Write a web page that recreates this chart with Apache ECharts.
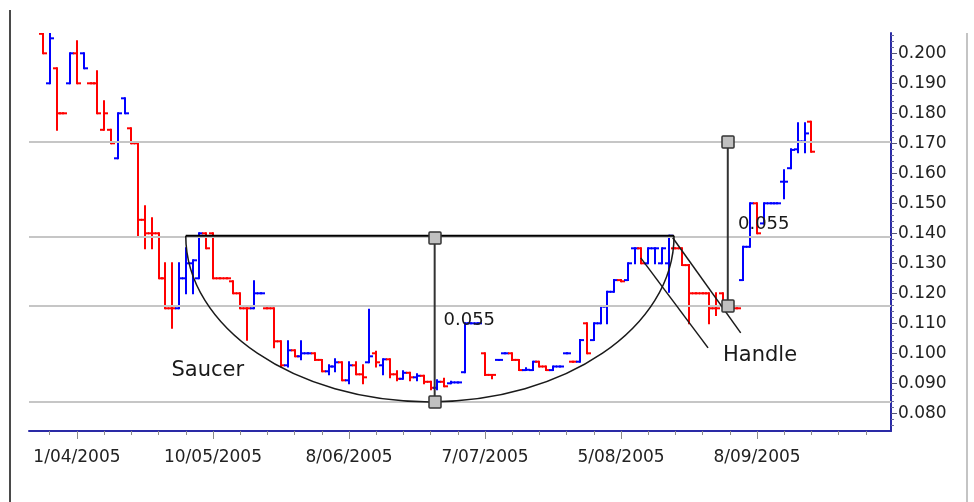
<!DOCTYPE html>
<html><head><meta charset="utf-8">
<script src="https://cdn.jsdelivr.net/npm/echarts@6/dist/echarts.min.js"></script>
<style>html,body{margin:0;padding:0;background:#ffffff}#c{width:974px;height:502px}</style>
</head><body><div id="c"></div>
<script>
// ---- price bars (one per trading session, index = position on the axis) ----
const opens = [
.2065,.1900,.1950,.1800,.1900,.2000,.2000,.1900,.1900,.1745,
.1745,.1650,.1850,.1750,.1700,.1445,.1400,.1400,.1250,.1150,
.1150,.1250,.1300,.1250,.1400,.1400,.1250,.1250,.1240,.1200,
.1150,.1150,.1200,.1150,.1150,.1040,.0960,.1010,.0990,.1000,
.1000,.0978,.0940,.0956,.0970,.0910,.0960,.0930,.0970,.1000,
.0960,.0980,.0930,.0915,.0935,.0920,.0925,.0905,.0885,.0905,
.0900,.0903,.0937,.1100,.1100,.1000,.0928,.0978,.1000,.1000,
.0978,.0944,.0944,.0972,.0956,.0944,.0956,.1000,.0972,.0972,
.1100,.1044,.1100,.1156,.1205,.1244,.1244,.1350,.1350,.1300,
.1350,.1300,.1300,.1350,.1350,.1294,.1200,.1200,.1200,.1150,
.1200,.1150,.1150,.1244,.1355,.1500,.1433,.1500,.1500,.1572,
.1617,.1680,.1706,.1772];
const highs = [
.2065,.2065,.1950,.1800,.2000,.2040,.2000,.1900,.1940,.1840,
.1745,.1800,.1850,.1750,.1700,.1490,.1450,.1400,.1300,.1300,
.1300,.1350,.1310,.1400,.1400,.1400,.1250,.1250,.1240,.1200,
.1150,.1240,.1200,.1150,.1150,.1040,.1040,.1010,.1040,.1000,
.1000,.0978,.0960,.0980,.0970,.0970,.0970,.0960,.1145,.1005,
.0980,.0980,.0940,.0940,.0935,.0930,.0925,.0905,.0910,.0915,
.0905,.0903,.1100,.1100,.1100,.1000,.0928,.0978,.1000,.1000,
.0978,.0950,.0972,.0972,.0956,.0956,.0956,.1000,.0972,.1044,
.1100,.1100,.1156,.1205,.1244,.1244,.1300,.1350,.1350,.1350,
.1350,.1350,.1392,.1350,.1350,.1294,.1200,.1200,.1200,.1200,
.1200,.1150,.1150,.1355,.1500,.1500,.1500,.1500,.1500,.1610,
.1680,.1767,.1767,.1772];
const lows = [
.2000,.1900,.1745,.1800,.1900,.1900,.1950,.1900,.1800,.1745,
.1700,.1650,.1800,.1700,.1394,.1350,.1350,.1250,.1150,.1085,
.1150,.1200,.1200,.1250,.1350,.1250,.1250,.1250,.1200,.1150,
.1045,.1150,.1200,.1150,.1020,.0956,.0956,.0990,.0980,.1000,
.0978,.0940,.0930,.0940,.0910,.0900,.0930,.0900,.0970,.0956,
.0930,.0920,.0910,.0915,.0910,.0910,.0900,.0880,.0880,.0890,
.0900,.0903,.0937,.1100,.1100,.0928,.0917,.0978,.1000,.0978,
.0944,.0944,.0944,.0956,.0944,.0944,.0956,.1000,.0972,.0972,
.1000,.1044,.1100,.1100,.1205,.1240,.1244,.1300,.1300,.1300,
.1300,.1300,.1205,.1350,.1294,.1100,.1200,.1200,.1100,.1128,
.1150,.1150,.1150,.1244,.1355,.1400,.1433,.1500,.1500,.1517,
.1617,.1670,.1670,.1672];
const closes = [
.2000,.2050,.1800,.1800,.2000,.1900,.1950,.1900,.1800,.1800,
.1700,.1800,.1800,.1700,.1445,.1400,.1400,.1250,.1150,.1150,
.1250,.1300,.1310,.1400,.1350,.1250,.1250,.1250,.1200,.1150,
.1150,.1200,.1200,.1150,.1040,.0960,.1010,.0990,.1000,.1000,
.0978,.0940,.0956,.0970,.0910,.0960,.0930,.0920,.0990,.0970,
.0980,.0930,.0915,.0935,.0920,.0925,.0905,.0885,.0905,.0890,
.0903,.0903,.1100,.1100,.1100,.0928,.0928,.0978,.1000,.0978,
.0944,.0945,.0972,.0956,.0944,.0956,.0956,.1000,.0972,.1044,
.1000,.1100,.1156,.1205,.1244,.1240,.1300,.1350,.1300,.1350,
.1350,.1350,.1392,.1350,.1294,.1200,.1200,.1200,.1150,.1150,
.1150,.1150,.1150,.1355,.1500,.1400,.1500,.1500,.1500,.1572,
.1678,.1706,.1733,.1672];

// ---- axis labels ----
const xTickIndex = [5, 25, 45, 65, 85, 105];
const xTickLabels = ['1/04/2005','10/05/2005','8/06/2005','7/07/2005','5/08/2005','8/09/2005'];
const yTickValues = [0.08,0.09,0.10,0.11,0.12,0.13,0.14,0.15,0.16,0.17,0.18,0.19,0.20];

// ---- pattern annotations (axis index, price) ----
const levelLines = [0.1705, 0.1388, 0.1158, 0.0838];
const saucerRim = [[21.0, 0.1392], [92.8, 0.1392]];
const saucerBottom = 0.0838;
const depthMeasure = [[57.6, 0.1386], [57.6, 0.0838]];
const targetMeasure = [[100.7, 0.1705], [100.7, 0.1158]];
const handleLines = [[[87.9, 0.1318], [97.8, 0.1018]], [[92.6, 0.1385], [102.6, 0.1068]]];
const noteTexts = ['Saucer', 'Handle', '0.055', '0.055'];
const notePositions = [[18.9, 0.0944], [100.0, 0.0991], [58.9, 0.1111], [102.2, 0.1431]];
const noteSizes = [21, 21, 18, 18];

const X_MIN = -2.05, X_MAX = 124.7, Y_MIN = 0.0741, Y_MAX = 0.20677;

const barData = closes.map((c, i) => {
  const prev = i === 0 ? opens[0] : closes[i - 1];
  return [i, opens[i], highs[i], lows[i], c, c > prev ? 1 : (c < prev ? 0 : -1)];
});
// equal closes keep previous colour
for (let i = 0; i < barData.length; i++) {
  if (barData[i][5] === -1) barData[i][5] = i === 0 ? 0 : barData[i - 1][5];
}

const minorX = []; for (let v = 1; v <= 121; v += 4) minorX.push(v);
const minorY = []; for (let v = 76; v <= 206; v += 2) minorY.push(v / 1000);

const FONT = 'DejaVu Sans';
const AXIS_BLUE = '#2a2aa6';

const option = {
  animation: false,
  backgroundColor: '#ffffff',
  grid: { left: 29, right: 83, top: 33, bottom: 71, containLabel: false },
  xAxis: [{
    type: 'value', min: X_MIN, max: X_MAX, position: 'bottom',
    axisLine: { show: true, onZero: false, lineStyle: { color: AXIS_BLUE, width: 2 } },
    axisTick: { show: true, customValues: minorX, length: 4, lineStyle: { color: '#8a8a8a', width: 1 } },
    axisLabel: { show: true, customValues: xTickIndex, margin: 18, color: '#222', fontFamily: FONT, fontSize: 17,
      formatter: v => { const k = xTickIndex.indexOf(Math.round(v)); return k >= 0 ? xTickLabels[k] : ''; } },
    splitLine: { show: false }
  }, {
    type: 'value', min: X_MIN, max: X_MAX, position: 'bottom', gridIndex: 0,
    axisLine: { show: false, onZero: false },
    axisTick: { show: true, customValues: xTickIndex, length: 8, lineStyle: { color: '#8a8a8a', width: 1 } },
    axisLabel: { show: false }, splitLine: { show: false }
  }],
  yAxis: [{
    type: 'value', min: Y_MIN, max: Y_MAX, position: 'right',
    axisLine: { show: true, onZero: false, lineStyle: { color: AXIS_BLUE, width: 2 } },
    axisTick: { show: true, customValues: minorY, length: 3, lineStyle: { color: '#6a6a9a', width: 1 } },
    axisLabel: { show: true, customValues: yTickValues, margin: 7, color: '#222', fontFamily: FONT, fontSize: 17,
      formatter: v => v.toFixed(3) },
    splitLine: { show: false }
  }, {
    type: 'value', min: Y_MIN, max: Y_MAX, position: 'right',
    axisLine: { show: false, onZero: false },
    axisTick: { show: true, customValues: yTickValues, length: 6, lineStyle: { color: '#555577', width: 1 } },
    axisLabel: { show: false }, splitLine: { show: false }
  }],
  series: [{
    type: 'line', data: [], xAxisIndex: 0, yAxisIndex: 0, z: 1,
    markLine: { silent: true, symbol: 'none', animation: false, precision: 5, label: { show: false },
      lineStyle: { color: '#c6c6c6', width: 2, type: 'solid' },
      data: levelLines.map(v => ({ yAxis: v })) }
  }, {
    type: 'custom', xAxisIndex: 0, yAxisIndex: 0, z: 3, clip: true,
    data: barData,
    renderItem: (params, api) => {
      const i = api.value(0);
      const pO = api.coord([i, api.value(1)]);
      const pH = api.coord([i, api.value(2)]);
      const pL = api.coord([i, api.value(3)]);
      const pC = api.coord([i, api.value(4)]);
      const color = api.value(5) ? '#0000ff' : '#ff0000';
      const x = Math.round(pO[0]);
      const st = { stroke: color, lineWidth: 2 };
      const ch = [];
      ch.push({ type: 'line', shape: { x1: x, y1: pH[1] - 1, x2: x, y2: pL[1] + 1 }, style: st });
      ch.push({ type: 'line', shape: { x1: x - 4, y1: pO[1], x2: x, y2: pO[1] }, style: st });
      ch.push({ type: 'line', shape: { x1: x, y1: pC[1], x2: x + 4, y2: pC[1] }, style: st });
      return { type: 'group', children: ch };
    }
  }]
};

const chart = echarts.init(document.getElementById('c'), null, { renderer: 'canvas', width: 974, height: 502 });
chart.setOption(option);

function px(p) { return chart.convertToPixel({ xAxisIndex: 0, yAxisIndex: 0 }, p); }

const g = [];
// outer frame
g.push({ type: 'line', shape: { x1: 10, y1: 10, x2: 10, y2: 502 }, style: { stroke: '#4a4a4a', lineWidth: 2 }, z: 50 });
g.push({ type: 'line', shape: { x1: 967, y1: 33, x2: 967, y2: 502 }, style: { stroke: '#c4c4c4', lineWidth: 2 }, z: 50 });

// saucer arc (half ellipse through rim ends and bottom)
const L = px(saucerRim[0]), R = px(saucerRim[1]);
const cx = (L[0] + R[0]) / 2;
const yb = px([0, saucerBottom])[1];
const rx = (R[0] - L[0]) / 2, ry = yb - L[1], k = 0.5523;
const arcStyle = { stroke: '#1a1a1a', lineWidth: 1.5, fill: null };
g.push({ type: 'bezierCurve', z: 60, shape: { x1: L[0], y1: L[1], cpx1: L[0], cpy1: L[1] + k * ry, cpx2: cx - k * rx, cpy2: yb, x2: cx, y2: yb }, style: arcStyle });
g.push({ type: 'bezierCurve', z: 60, shape: { x1: cx, y1: yb, cpx1: cx + k * rx, cpy1: yb, cpx2: R[0], cpy2: L[1] + k * ry, x2: R[0], y2: R[1] }, style: arcStyle });

// rim
g.push({ type: 'line', z: 61, shape: { x1: L[0], y1: L[1], x2: R[0], y2: R[1] }, style: { stroke: '#000', lineWidth: 2 } });

// handle lines
handleLines.forEach(seg => {
  const a = px(seg[0]), b = px(seg[1]);
  g.push({ type: 'line', z: 61, shape: { x1: a[0], y1: a[1], x2: b[0], y2: b[1] }, style: { stroke: '#1a1a1a', lineWidth: 1.5 } });
});

// measures with square handles
[depthMeasure, targetMeasure].forEach(m => {
  const a = px(m[0]), b = px(m[1]);
  g.push({ type: 'line', z: 62, shape: { x1: a[0], y1: a[1], x2: b[0], y2: b[1] }, style: { stroke: '#333', lineWidth: 2 } });
  [a, b].forEach(p => {
    g.push({ type: 'rect', z: 63, shape: { x: Math.round(p[0]) - 6, y: Math.round(p[1]) - 6, width: 12, height: 12, r: 1 },
      style: { fill: '#c0c0c0', stroke: '#333', lineWidth: 1.5 } });
  });
});

// notes
noteTexts.forEach((t, i) => {
  const p = px(notePositions[i]);
  g.push({ type: 'text', z: 64, x: p[0], y: p[1],
    style: { text: t, fill: '#1a1a1a', font: noteSizes[i] + 'px "' + FONT + '"', textAlign: 'left', textVerticalAlign: 'middle' } });
});

chart.setOption({ graphic: { elements: g } });
</script>
</body></html>
